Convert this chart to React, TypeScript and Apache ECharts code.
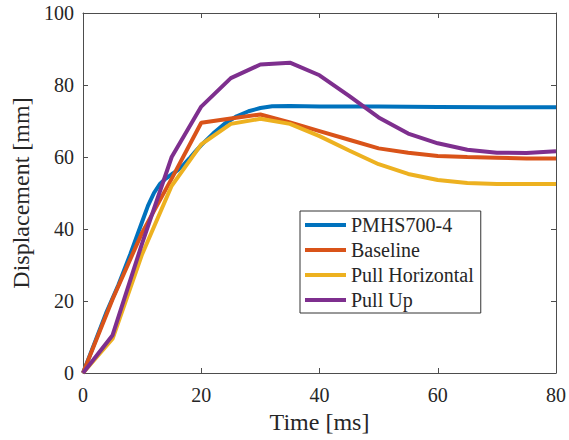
import { useEffect, useRef } from "react";
import * as echarts from "echarts";

const seriesNames = ["PMHS700-4", "Baseline", "Pull Horizontal", "Pull Up"];
const seriesColors = ["#0072BD", "#D95319", "#EDB120", "#7E2F8E"];

const pmhsTime = [0, 2, 4, 6, 8, 10, 11, 12, 13, 14, 15, 16, 17, 18, 19, 20, 22, 24, 26, 28, 30, 32, 35, 40, 50, 60, 70, 80];
const pmhsDisp = [0, 8.5, 17, 24.5, 33, 42, 46.5, 50, 52.5, 54, 55.2, 56.3, 57.8, 59.6, 61.5, 63.3, 66.5, 69.3, 71.3, 72.7, 73.6, 74.1, 74.2, 74, 74, 73.9, 73.8, 73.8];

const modelTime = [0, 5, 10, 15, 20, 25, 30, 35, 40, 45, 50, 55, 60, 65, 70, 75, 80];
const baselineDisp = [0, 20.5, 39, 54, 69.5, 70.7, 71.8, 69.6, 67.2, 64.8, 62.4, 61.2, 60.3, 60, 59.8, 59.6, 59.6];
const pullHorizontalDisp = [0, 9.5, 33, 52, 63.5, 69.2, 70.6, 69.2, 65.8, 61.8, 58, 55.3, 53.6, 52.8, 52.5, 52.5, 52.5];
const pullUpDisp = [0, 10.5, 36, 60, 74, 81.9, 85.7, 86.2, 82.7, 77, 71, 66.5, 63.8, 62, 61.2, 61.1, 61.6];

const xTickMin = 0;
const xTickMax = 80;
const xTickStep = 20;
const yTickMin = 0;
const yTickMax = 100;
const yTickStep = 20;

const FONT = "Times New Roman, Liberation Serif, serif";
const AXIS_COLOR = "#4d4d4d";
const TEXT_COLOR = "#262626";

function pairs(xs: number[], ys: number[]) {
  return xs.map((x, i) => [x, ys[i]]);
}

export default function App() {
  const ref = useRef<HTMLDivElement>(null);

  useEffect(() => {
    if (!ref.current) return;
    const chart = echarts.init(ref.current, undefined, { renderer: "svg" });

    const seriesData = [
      pairs(pmhsTime, pmhsDisp),
      pairs(modelTime, baselineDisp),
      pairs(modelTime, pullHorizontalDisp),
      pairs(modelTime, pullUpDisp),
    ];

    const axisLine = { show: true, onZero: false, lineStyle: { color: AXIS_COLOR, width: 1 } };
    const axisTick = { show: true, inside: true, length: 5, lineStyle: { color: AXIS_COLOR, width: 1 } };

    chart.setOption({
      animation: false,
      backgroundColor: "#ffffff",
      textStyle: { fontFamily: FONT },
      grid: { left: 83, right: 13, top: 13, bottom: 67, containLabel: false },
      xAxis: [
        {
          type: "value",
          position: "bottom",
          min: xTickMin,
          max: xTickMax,
          interval: xTickStep,
          axisLine,
          axisTick,
          splitLine: { show: false },
          axisLabel: { margin: 12, fontSize: 20, fontFamily: FONT, color: TEXT_COLOR },
          name: "Time [ms]",
          nameLocation: "middle",
          nameGap: 35,
          nameTextStyle: { fontSize: 24, fontFamily: FONT, color: TEXT_COLOR },
        },
        {
          type: "value",
          position: "top",
          min: xTickMin,
          max: xTickMax,
          interval: xTickStep,
          axisLine,
          axisTick,
          splitLine: { show: false },
          axisLabel: { show: false },
        },
      ],
      yAxis: [
        {
          type: "value",
          position: "left",
          min: yTickMin,
          max: yTickMax,
          interval: yTickStep,
          axisLine,
          axisTick,
          splitLine: { show: false },
          axisLabel: { margin: 9, fontSize: 20, fontFamily: FONT, color: TEXT_COLOR },
          name: "Displacement [mm]",
          nameLocation: "middle",
          nameGap: 42,
          nameTextStyle: { fontSize: 24, fontFamily: FONT, color: TEXT_COLOR },
        },
        {
          type: "value",
          position: "right",
          min: yTickMin,
          max: yTickMax,
          interval: yTickStep,
          axisLine,
          axisTick,
          splitLine: { show: false },
          axisLabel: { show: false },
        },
      ],
      legend: {
        show: true,
        orient: "vertical",
        left: 300,
        top: 211,
        padding: [4, 7, 3, 5],
        itemGap: 5,
        itemWidth: 41,
        itemHeight: 4,
        borderColor: "#333333",
        borderWidth: 1,
        backgroundColor: "#ffffff",
        textStyle: { fontSize: 20, lineHeight: 20, fontFamily: FONT, color: TEXT_COLOR },
        data: seriesNames.map((name) => ({ name, icon: "rect" })),
      },
      series: seriesNames.map((name, i) => ({
        name,
        type: "line",
        xAxisIndex: 0,
        yAxisIndex: 0,
        data: seriesData[i],
        showSymbol: false,
        symbol: "none",
        color: seriesColors[i],
        lineStyle: { color: seriesColors[i], width: 4 },
      })),
    });

    return () => chart.dispose();
  }, []);

  return (
    <div
      ref={ref}
      style={{ position: "fixed", left: 0, top: 0, width: 569, height: 440, background: "#fff" }}
    />
  );
}
